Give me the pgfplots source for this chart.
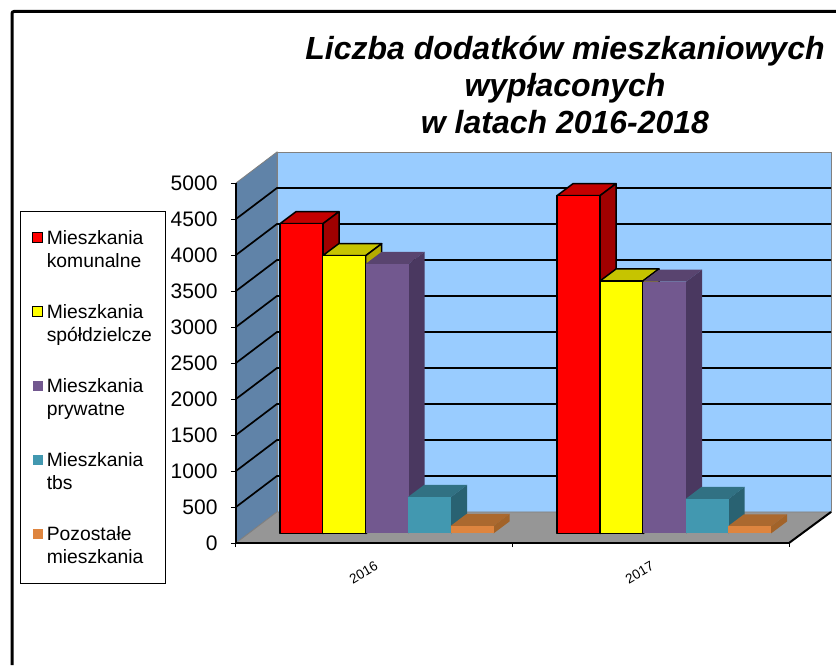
\documentclass[border=0pt]{standalone}
\usepackage{fontspec}
\setmainfont{Liberation Sans}
\usepackage{pgfplots}
\pgfplotsset{compat=1.18}
\definecolor{wallback}{HTML}{99CCFF}
\definecolor{wallside}{HTML}{6083A8}
\definecolor{floorg}{HTML}{969696}
\definecolor{cRed}{HTML}{FF0000}\definecolor{cRedS}{HTML}{A00000}\definecolor{cRedT}{HTML}{C40000}
\definecolor{cYel}{HTML}{FFFF00}\definecolor{cYelS}{HTML}{B4AC00}\definecolor{cYelT}{HTML}{C6C400}
\definecolor{cPur}{HTML}{72588F}\definecolor{cPurS}{HTML}{4A3860}\definecolor{cPurT}{HTML}{59446F}
\definecolor{cTea}{HTML}{4298B0}\definecolor{cTeaS}{HTML}{296272}\definecolor{cTeaT}{HTML}{317183}
\definecolor{cOra}{HTML}{DE853F}\definecolor{cOraS}{HTML}{A26329}\definecolor{cOraT}{HTML}{AB692F}
% #1 left x, #2 value, #3 front, #4 side, #5 top, #6 edge
\newcommand{\tdbar}[6]{%
  \pgfmathsetmacro\xA{#1}\pgfmathsetmacro\xB{#1+43}%
  \pgfmathsetmacro\xC{#1+43+16}\pgfmathsetmacro\xD{#1+16}%
  \pgfmathsetmacro\yB{132}\pgfmathsetmacro\yT{#2+132}%
  \pgfmathsetmacro\yBb{132+167}\pgfmathsetmacro\yTb{#2+132+167}%
  \edef\tmp{\noexpand\addplot[forget plot,fill=#5,draw=#6,line width=1.5pt,line join=round] coordinates {(\xA,\yT)(\xB,\yT)(\xC,\yTb)(\xD,\yTb)} --cycle;
  \noexpand\addplot[forget plot,fill=#4,draw=#6,line width=1.5pt,line join=round] coordinates {(\xB,\yB)(\xC,\yBb)(\xC,\yTb)(\xB,\yT)} --cycle;
  \noexpand\addplot[forget plot,fill=#3,draw=#6,line width=1.5pt,line join=round] coordinates {(\xA,\yB)(\xB,\yB)(\xB,\yT)(\xA,\yT)} --cycle;}%
  \tmp}
\newcommand{\gridl}[1]{%
  \pgfmathsetmacro\yG{#1+431}%
  \edef\tmp{\noexpand\addplot[forget plot,black,line width=1.7pt] coordinates {(236,#1)(277,\yG)(831,\yG)};}\tmp}
\pgfplotsset{
  legsq/.style={legend image code/.code={\path[##1] (1.5pt,7pt) rectangle (11.5pt,17pt);}},
}
\begin{document}
\begin{tikzpicture}[x=1pt,y=1pt]
\path[use as bounding box] (0,0) rectangle (836,665);
\draw[black,line width=3pt,rounded corners=2pt] (12,0) -- (12,653.5) -- (836,653.5);
\begin{axis}[
  at={(236pt,122pt)}, anchor=origin,
  scale only axis, width=553pt, height=360pt,
  xmin=236, xmax=789, ymin=0, ymax=5000,
  clip=false, axis on top,
  axis x line*=bottom, axis y line*=left,
  axis line style={black,line width=2pt,-},
  ytick={0,500,...,5000},
  xtick={362,638}, xticklabels={2016,2017},
  tick align=outside,
  y tick style={black,line width=1pt},
  x tick style={draw=none},
  major tick length=5pt,
  extra x ticks={236,512,789},
  extra x tick labels={},
  extra x tick style={x tick style={draw=black,line width=1pt}, major tick length=4pt},
  tick label style={font=\fontsize{21}{24}\selectfont},
  yticklabel style={/pgf/number format/1000 sep={},/pgf/number format/assume math mode=true,xshift=-10pt},
  xticklabel style={font=\fontsize{13.5}{16}\selectfont,rotate=30,anchor=center,yshift=-22pt,xshift=-11pt},
  legend style={at={(-0.3906,0.9222)},anchor=north west,draw=black,line width=0.7pt,
    font=\fontsize{19.3}{23}\selectfont,
    cells={anchor=west,align=left},row sep=31.5pt,column sep=1.5pt,inner xsep=11.5pt,inner ysep=17pt},
]
% walls and floor
\addplot[forget plot,fill=wallside,draw=gray,line width=0.8pt] coordinates {(236,0)(277,431)(277,5431)(236,5000)} --cycle;
\addplot[forget plot,fill=wallback,draw=gray,line width=0.8pt] coordinates {(277,431)(831,431)(831,5431)(277,5431)} --cycle;
\addplot[forget plot,fill=floorg,draw=gray,line width=0.8pt] coordinates {(236,0)(789,0)(831,431)(277,431)} --cycle;
\gridl{500}\gridl{1000}\gridl{1500}\gridl{2000}\gridl{2500}\gridl{3000}\gridl{3500}\gridl{4000}\gridl{4500}
\addplot[forget plot,black,line width=2pt] coordinates {(789,0)(831,431)};
% 2016
\tdbar{280}{4303}{cRed}{cRedS}{cRedT}{black}
\tdbar{322.7}{3858}{cYel}{cYelS}{cYelT}{black}
\tdbar{365.5}{3743}{cPur}{cPurS}{cPurT}{none}
\tdbar{408}{507}{cTea}{cTeaS}{cTeaT}{none}
\tdbar{450.5}{104}{cOra}{cOraS}{cOraT}{none}
% 2017
\tdbar{557}{4692}{cRed}{cRedS}{cRedT}{black}
\tdbar{600}{3507}{cYel}{cYelS}{cYelT}{black}
\tdbar{643}{3497}{cPur}{cPurS}{cPurT}{none}
\tdbar{685.5}{479}{cTea}{cTeaS}{cTeaT}{none}
\tdbar{728}{100}{cOra}{cOraS}{cOraT}{none}
% legend
\addlegendimage{legsq,fill=cRed,draw=black,line width=1.5pt}
\addlegendentry{Mieszkania\\komunalne}
\addlegendimage{legsq,fill=cYel,draw=black,line width=1.5pt}
\addlegendentry{Mieszkania\\spółdzielcze}
\addlegendimage{legsq,fill=cPur,draw=none}
\addlegendentry{Mieszkania\\prywatne}
\addlegendimage{legsq,fill=cTea,draw=none}
\addlegendentry{Mieszkania\\tbs}
\addlegendimage{legsq,fill=cOra,draw=none}
\addlegendentry{Pozostałe\\mieszkania}
\end{axis}
\node[align=center,font=\fontsize{32}{37}\selectfont\bfseries\itshape] at (565,580.5) {Liczba dodatków mieszkaniowych\\wypłaconych\\w latach 2016-2018};
\end{tikzpicture}
\end{document}
